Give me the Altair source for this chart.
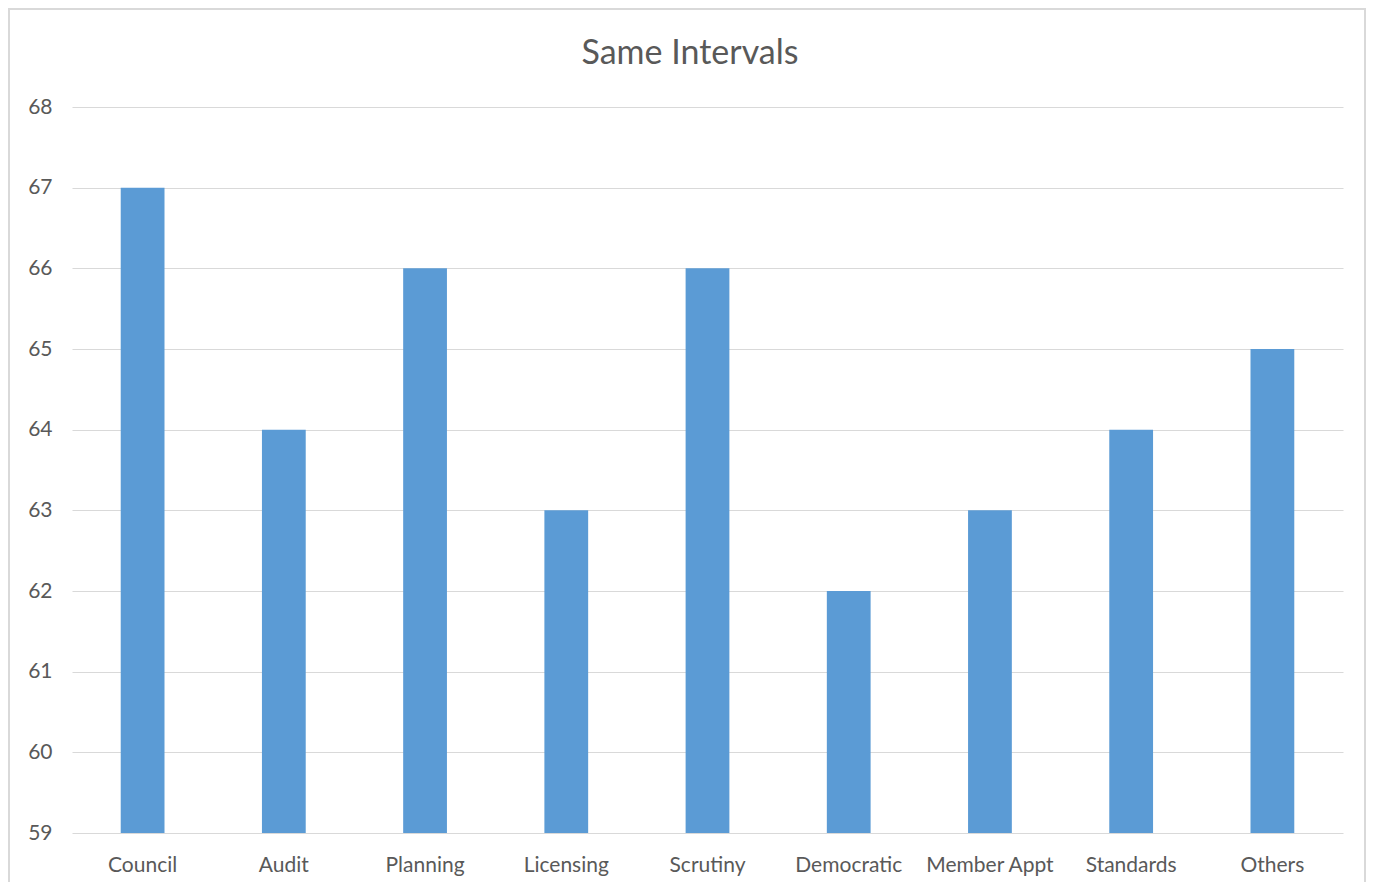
import altair as alt
import pandas as pd

categories = ["Council", "Audit", "Planning", "Licensing", "Scrutiny",
              "Democratic", "Member Appt", "Standards", "Others"]
values = [67, 64, 66, 63, 66, 62, 63, 64, 65]
y_ticks = [59, 60, 61, 62, 63, 64, 65, 66, 67, 68]
title_text = "Same Intervals"

df = pd.DataFrame({"category": categories, "value": values})

FONT = "Lato"
TXT = "#595959"

bars = alt.Chart(df).mark_bar(color="#5b9bd5", clip=True).encode(
    x=alt.X("category:N", sort=categories, title=None,
            scale=alt.Scale(paddingInner=0.69, paddingOuter=0.345),
            axis=alt.Axis(labelAngle=0, labelFont=FONT, labelFontSize=21,
                          labelColor=TXT, labelPadding=21, ticks=False,
                          domain=False, grid=False)),
    y=alt.Y("value:Q", title=None,
            scale=alt.Scale(domain=[59, 68], zero=False, nice=False),
            axis=alt.Axis(values=y_ticks, labelFont=FONT, labelFontSize=21,
                          labelColor=TXT, labelPadding=20, ticks=False,
                          domain=False, gridColor="#d9d9d9", gridWidth=1)),
)

single = pd.DataFrame({"t": [title_text]})

border = alt.Chart(single).mark_rect(
    fill=None, stroke="#d9d9d9", strokeWidth=2
).encode(
    x=alt.value(-63), x2=alt.value(1293),
    y=alt.value(-98), y2=alt.value(800),
)

title = alt.Chart(single).mark_text(
    font=FONT, fontSize=34, color=TXT, align="center", baseline="middle"
).encode(
    x=alt.value(618), y=alt.value(-53), text="t:N",
)

chart = alt.layer(bars, border, title).properties(
    width=1271,
    height=726,
    padding={"left": 64, "top": 99, "right": 24, "bottom": 49},
    autosize=alt.AutoSizeParams(type="none"),
).configure_view(stroke=None)

chart.save("out.html", embed_options={"renderer": "svg", "actions": False})
